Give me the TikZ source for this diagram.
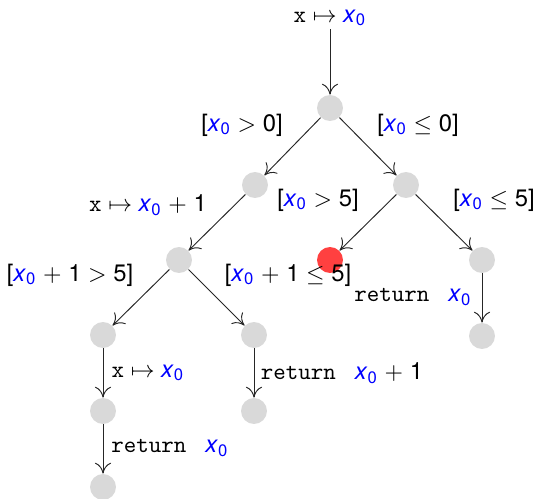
\documentclass[tikz,border=0pt]{standalone}
\usepackage{fontspec}
\setmainfont{TeX Gyre Heros}
\usepackage{xcolor}
\usepackage{tikz}
\usetikzlibrary{arrows.meta,positioning}
\definecolor{nodegray}{RGB}{217,217,217}
\definecolor{nodered}{RGB}{255,64,64}
\newcommand{\xz}{\textcolor{blue}{\textit{x}\textsubscript{0}}}
\newcommand{\asg}{\texttt{x}~$\mapsto$~}
\newcommand{\ret}{\texttt{return}\hspace{0.8em}}
\tikzset{
  state/.style={circle,fill=nodegray,inner sep=0pt,minimum size=10.9pt},
  hot/.style={state,fill=nodered},
  lbl/.style={inner sep=1pt},
  flow/.style={-{To[length=1.6mm,width=2.4mm]},draw=black!85},
}

\begin{document}
\begin{tikzpicture}[x=0.42pt,y=-0.42pt]
  \useasboundingbox (0,0) rectangle (536,498);

  % execution tree
  \node[lbl] (init) at (330,18) {\asg\xz};
  \node[state] (s0) at (330,108) {};
  \node[state] (s1) at (255,185) {};
  \node[state] (s2) at (406,185) {};
  \node[state] (s3) at (179,260) {};
  \node[hot] (s4) at (330,260) {};
  \node[state] (s5) at (482,260) {};
  \node[state] (s6) at (103,335) {};
  \node[state] (s7) at (254,335) {};
  \node[state] (s8) at (103,411) {};
  \node[state] (s9) at (103,487) {};
  \node[state] (s10) at (254,411) {};
  \node[state] (s11) at (482,336) {};

  \draw[flow] (init) -- (s0);
  \draw[flow] (s0) -- (s1);
  \draw[flow] (s0) -- (s2);
  \draw[flow] (s1) -- (s3);
  \draw[flow] (s2) -- (s4);
  \draw[flow] (s2) -- (s5);
  \draw[flow] (s3) -- (s6);
  \draw[flow] (s3) -- (s7);
  \draw[flow] (s6) -- (s8);
  \draw[flow] (s8) -- (s9);
  \draw[flow] (s7) -- (s10);
  \draw[flow] (s5) -- (s11);

  % guards and updates
  \node[lbl] (g1) at (242,125) {[\xz\ $>$ 0]};
  \node[lbl] (g2) at (418,125) {[\xz\ $\leq$ 0]};
  \node[lbl] (u1) at (148,205) {\asg\xz\ $+$ 1};
  \node[lbl] (g3) at (318,200) {[\xz\ $>$ 5]};
  \node[lbl] (g4) at (494,200) {[\xz\ $\leq$ 5]};
  \node[lbl] (g5) at (70,275) {[\xz\ $+$ 1 $>$ 5]};
  \node[lbl] (g6) at (288,275) {[\xz\ $+$ 1 $\leq$ 5]};
  \node[lbl] (r1) at (413,297) {\ret\xz};
  \node[lbl] (u2) at (148,373) {\asg\xz};
  \node[lbl] (r2) at (342,373) {\ret\xz\ $+$ 1};
  \node[lbl] (r3) at (170,448) {\ret\xz};
\end{tikzpicture}
\end{document}
